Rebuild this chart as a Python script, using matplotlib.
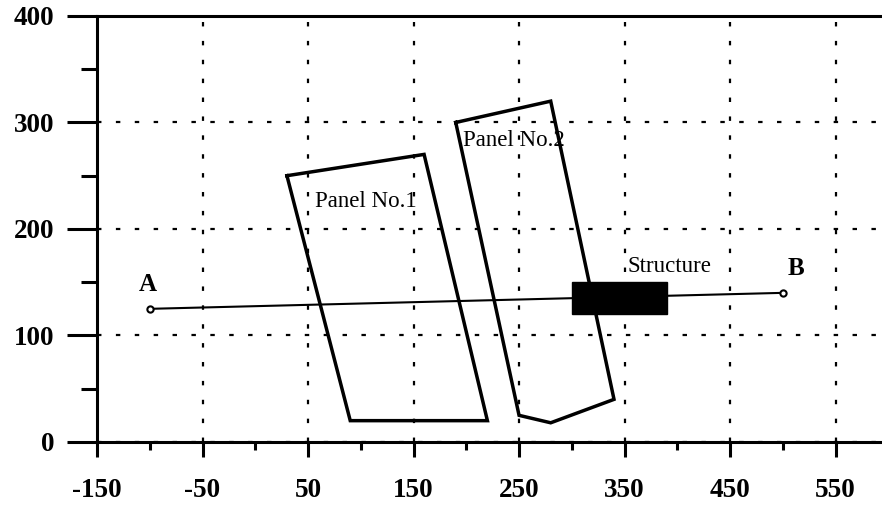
import matplotlib
import matplotlib.pyplot as plt
from matplotlib.patches import Rectangle
from matplotlib.ticker import MultipleLocator, FixedLocator

matplotlib.use('Agg')

# Panel outlines (closed polygons)
panel1_x = [30, 160, 220, 90, 30]
panel1_y = [250, 270, 20, 20, 250]
panel2_x = [190, 280, 340, 280, 250, 190]
panel2_y = [300, 320, 40, 18, 25, 300]

# Survey line A-B
line_x = [-100, 500]
line_y = [125, 140]

# Structure block: x range and y range
struct_x = [300, 390]
struct_y = [120, 150]

x_ticks = [-150, -50, 50, 150, 250, 350, 450, 550]
y_ticks = [0, 100, 200, 300, 400]

INK = "black"
SERIF = "Liberation Serif"

fig = plt.figure(figsize=(8.82, 5.08), dpi=100, facecolor="white")
ax = fig.add_axes([0.110, 0.130, 0.890, 0.8386])

ax.plot(panel1_x, panel1_y, color=INK, lw=2.5, solid_joinstyle='miter')
ax.plot(panel2_x, panel2_y, color=INK, lw=2.5, solid_joinstyle='miter')
ax.plot(line_x, line_y, color=INK, lw=1.5, marker='o', markersize=4.5,
        markerfacecolor='white', markeredgewidth=1.5, zorder=3)
ax.add_patch(Rectangle((struct_x[0], struct_y[0]), struct_x[1] - struct_x[0],
                       struct_y[1] - struct_y[0], facecolor=INK, edgecolor=INK, zorder=4))

ax.text(line_x[0] - 10, line_y[0] + 12, "A", fontsize=18, fontweight='bold',
        family=SERIF, ha='left', va='bottom')
ax.text(line_x[1] + 5, line_y[1] + 12, "B", fontsize=18, fontweight='bold',
        family=SERIF, ha='left', va='bottom')
ax.text(353, 165, "Structure", fontsize=16.5, family=SERIF, ha='left', va='center')
ax.text(57, 226, "Panel No.1", fontsize=16.5, family=SERIF, ha='left', va='center')
ax.text(197, 283, "Panel No.2", fontsize=16.5, family=SERIF, ha='left', va='center')

ax.set_xlim(-150, 594)
ax.set_ylim(0, 400)

ax.xaxis.set_major_locator(FixedLocator(x_ticks))
ax.xaxis.set_minor_locator(FixedLocator([-100, 0, 100, 200, 300, 400, 500]))
ax.yaxis.set_major_locator(FixedLocator(y_ticks))
ax.yaxis.set_minor_locator(MultipleLocator(50))

ax.grid(which='major', color=INK, lw=1.6, linestyle=(0, (2, 6.5)))

ax.spines['right'].set_visible(False)
for side in ['left', 'top', 'bottom']:
    ax.spines[side].set_linewidth(2.2)
    ax.spines[side].set_color(INK)

ax.tick_params(axis='y', which='major', direction='out', length=21.6, width=2.2, pad=9,
               labelsize=19.5)
ax.tick_params(axis='y', which='minor', direction='out', length=11.5, width=2.2)
ax.tick_params(axis='x', which='major', direction='out', length=10.8, width=2.2, pad=15,
               labelsize=19.5)
ax.tick_params(axis='x', which='minor', direction='out', length=5.8, width=2.2)

ax.set_xticklabels([str(v) for v in x_ticks])
ax.set_yticklabels([str(v) for v in y_ticks])
for lbl in ax.get_xticklabels() + ax.get_yticklabels():
    lbl.set_family(SERIF)
    lbl.set_fontweight('bold')

fig.savefig("out.png", dpi=100, facecolor="white")
